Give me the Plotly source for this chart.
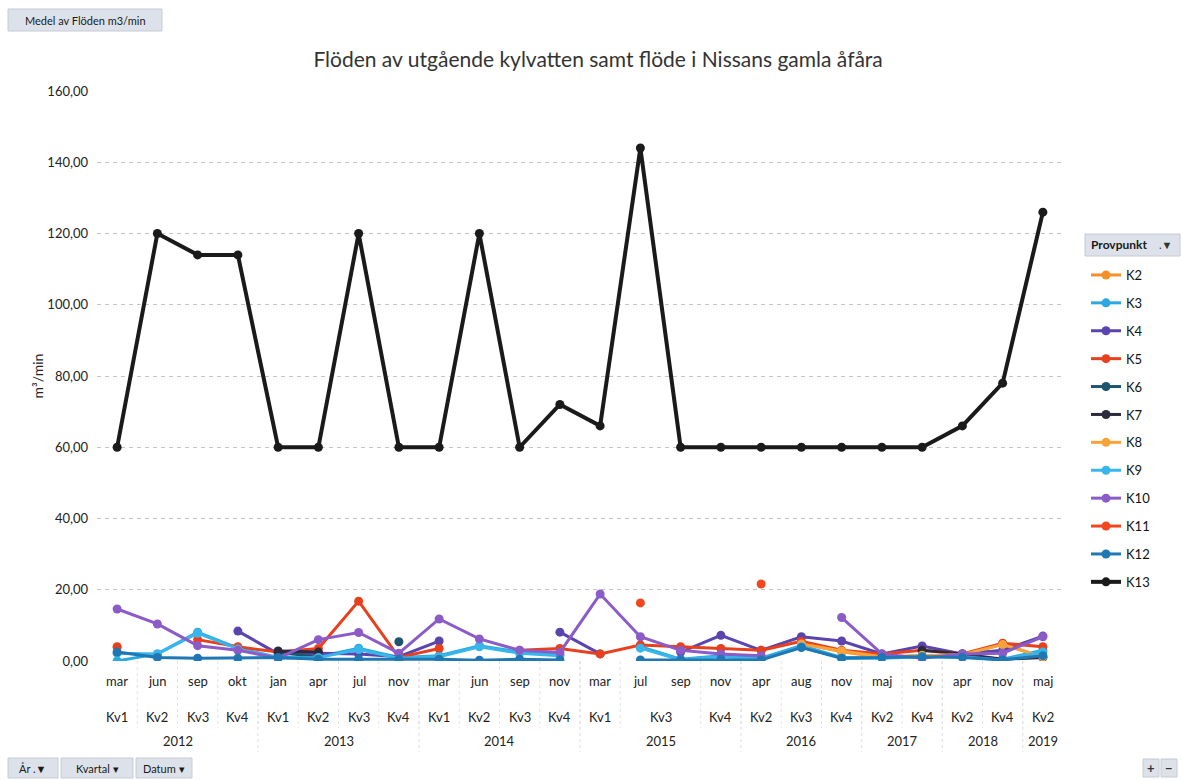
import plotly.graph_objects as go

# ---- category axis (three levels: month / quarter / year) ----
months = ["mar", "jun", "sep", "okt", "jan", "apr", "jul", "nov", "mar", "jun", "sep", "nov",
          "mar", "jul", "sep", "nov", "apr", "aug", "nov", "maj", "nov", "apr", "nov", "maj"]
quarters = ["Kv1", "Kv2", "Kv3", "Kv4", "Kv1", "Kv2", "Kv3", "Kv4", "Kv1", "Kv2", "Kv3", "Kv4",
            "Kv1", "Kv3", "Kv3", "Kv4", "Kv2", "Kv3", "Kv4", "Kv2", "Kv4", "Kv2", "Kv4", "Kv2"]
years = ["2012"] * 4 + ["2013"] * 4 + ["2014"] * 4 + ["2015"] * 4 + ["2016"] * 3 + \
        ["2017"] * 2 + ["2018"] * 2 + ["2019"]

# ---- average flow per sampling point, m3/min ----
K2 = [3.8, None, None, None, None, None, None, None, None, None, None, None,
      None, None, None, None, None, 5.0, 2.6, 1.0, 1.5, 1.5, 4.8, 1.0]
K3 = [0.0, 2.0, 8.1, 3.6, 1.0, 1.2, 3.6, 1.0, 1.5, 4.3, 2.5, 1.8,
      None, 4.0, 0.5, 1.5, 0.8, 4.3, 1.0, 1.0, 1.5, 1.5, 0.5, 3.0]
K4 = [None, None, None, 8.4, 2.0, 2.2, 2.0, 1.2, 5.6, None, None, 8.1,
      2.0, None, 2.5, 7.2, 3.0, 6.8, 5.6, 2.0, 4.2, 2.0, 3.0, 7.0]
K5 = [4.0, None, 6.0, 4.0, 2.5, 3.5, 16.8, 1.0, 3.5, None, 3.0, 3.5,
      2.0, 4.5, 4.0, 3.5, 3.0, 5.5, 3.0, 2.0, 3.0, 2.0, 5.0, 4.0]
K6 = [None, None, None, None, 2.6, 1.0, None, 5.4, None, None, None, None,
      None, None, None, None, None, None, None, None, None, None, None, None]
K7 = [None, None, None, None, 2.8, 2.5, None, None, None, None, None, None,
      None, None, None, None, None, None, None, None, 3.0, 2.0, 0.5, 1.0]
K8 = [None, None, None, None, None, None, None, None, None, None, None, None,
      None, None, None, None, None, 4.8, 2.8, 1.2, 1.6, 1.8, 4.6, 1.2]
K9 = [2.2, 2.0, 7.8, 3.4, 0.8, 1.0, 3.2, 0.8, 1.2, 4.0, 2.2, 1.5,
      None, 3.6, 0.3, 1.2, 0.5, 4.0, 0.8, 0.8, 1.2, 1.2, 0.3, 2.5]
K10 = [14.6, 10.4, 4.3, 3.0, 0.8, 6.0, 8.0, 2.2, 11.8, 6.2, 3.0, 2.4,
       18.8, 6.8, 3.0, 2.0, 1.5, None, 12.2, 2.0, 0.8, 2.0, 2.2, 6.8]
K11 = [None, None, None, None, None, None, None, None, None, None, None, None,
       None, 16.3, None, None, 21.6, None, None, None, None, None, None, None]
K12 = [2.5, 1.0, 0.8, 0.8, 1.0, 0.5, 0.5, 0.5, 0.5, 0.2, 0.5, 0.3,
       None, 0.3, 0.3, 0.5, 0.3, 3.8, 0.8, 1.0, 1.2, 1.0, 0.3, 1.5]
K13 = [60, 120, 114, 114, 60, 60, 120, 60, 60, 120, 60, 72,
       66, 144, 60, 60, 60, 60, 60, 60, 60, 66, 78, 126]

series = [
    ("K2", K2, "#F4902A"),
    ("K3", K3, "#2BA8E0"),
    ("K4", K4, "#5A45AE"),
    ("K5", K5, "#E8401C"),
    ("K6", K6, "#1D5570"),
    ("K7", K7, "#2A2A3C"),
    ("K8", K8, "#F7A33A"),
    ("K9", K9, "#38B6EC"),
    ("K10", K10, "#8B5CC8"),
    ("K11", K11, "#F2461E"),
    ("K12", K12, "#1F77B4"),
    ("K13", K13, "#1A1A1A"),
]

FONT = "Lato"
W, H = 1182, 780
ML, MR, MT, MB = 97, 119, 91, 119
PW, PH = W - ML - MR, H - MT - MB


def px(xp):
    return (xp - ML) / PW


def py(yp):
    return (H - MB - yp) / PH


def label(xp, yp, text, size=11, color="#1a1a1a", anchor="center"):
    return dict(x=px(xp), y=py(yp), xref="paper", yref="paper", text=text, showarrow=False,
                xanchor=anchor, yanchor="middle", font=dict(size=size, color=color, family=FONT))


xs = list(range(len(months)))
fig = go.Figure()
for name, vals, col in series:
    big = name == "K13"
    fig.add_trace(go.Scatter(
        x=xs, y=vals, name=name, legendgroup=name, mode="lines+markers",
        line=dict(color=col, width=4 if big else 3),
        marker=dict(color=col, size=9),
        connectgaps=False,
    ))

annotations = []
shapes = []

# month row
for i, m in enumerate(months):
    annotations.append(dict(x=i, y=0, xref="x", yref="paper", text=m, showarrow=False,
                            xanchor="center", yanchor="middle",
                            yshift=-20, font=dict(size=13, color="#222")))


def runs(labels, keys):
    # consecutive runs of equal labels that stay inside one key group
    out = []
    start = 0
    for i in range(1, len(labels) + 1):
        if i == len(labels) or labels[i] != labels[start] or keys[i] != keys[start]:
            out.append((start, i - 1, labels[start]))
            start = i
    return out


for a, b, lab in runs(quarters, years):
    annotations.append(dict(x=(a + b) / 2, y=0, xref="x", yref="paper", text=lab, showarrow=False,
                            xanchor="center", yanchor="middle",
                            yshift=-56, font=dict(size=13, color="#222")))
    if b < len(months) - 1:
        shapes.append(dict(type="line", xref="x", yref="paper", x0=b + 0.5, x1=b + 0.5,
                           y0=0, y1=py(728), line=dict(color="#e2e2e2", width=1, dash="dot")))

for a, b, lab in runs(years, years):
    annotations.append(dict(x=(a + b) / 2, y=0, xref="x", yref="paper", text=lab, showarrow=False,
                            xanchor="center", yanchor="middle",
                            yshift=-80, font=dict(size=13, color="#222")))
    if b < len(months) - 1:
        shapes.append(dict(type="line", xref="x", yref="paper", x0=b + 0.5, x1=b + 0.5,
                           y0=0, y1=py(752), line=dict(color="#dcdcdc", width=1, dash="dot")))

# pivot field buttons
btn_fill = "#DDE2EA"
btn_line = "#C4CAD4"
shapes.append(dict(type="rect", xref="paper", yref="paper", x0=px(8), x1=px(162), y0=py(31), y1=py(9),
                   fillcolor=btn_fill, line=dict(color=btn_line, width=1), layer="below"))
annotations.append(label(85, 20, "Medel av Flöden m3/min"))

for x0, x1, lab in [(8, 58, "År .▼"), (61, 133, "Kvartal ▾"), (136, 192, "Datum ▾")]:
    shapes.append(dict(type="rect", xref="paper", yref="paper", x0=px(x0), x1=px(x1), y0=py(778), y1=py(758),
                       fillcolor=btn_fill, line=dict(color=btn_line, width=1)))
    annotations.append(label((x0 + x1) / 2, 768, lab))

for x0, x1, lab in [(1143, 1159, "+"), (1161, 1177, "−")]:
    shapes.append(dict(type="rect", xref="paper", yref="paper", x0=px(x0), x1=px(x1), y0=py(777), y1=py(759),
                       fillcolor=btn_fill, line=dict(color=btn_line, width=1)))
    annotations.append(label((x0 + x1) / 2, 768, "<b>" + lab + "</b>", size=13, color="#333"))

# legend header: field button with title and filter marker
shapes.append(dict(type="rect", xref="paper", yref="paper", x0=px(1085), x1=px(1180), y0=py(256), y1=py(234),
                   fillcolor=btn_fill, line=dict(color=btn_line, width=1), layer="below"))
annotations.append(label(1089, 245, "<b>Provpunkt</b>", size=12, color="#1a1a1a", anchor="left"))
annotations.append(label(1165, 245, ".▼", size=11, color="#333"))

fig.update_layout(
    width=W, height=H,
    margin=dict(l=ML, r=MR, t=MT, b=MB),
    paper_bgcolor="white", plot_bgcolor="white",
    separators=", ",
    font=dict(family=FONT, color="#222", size=13),
    title=dict(text="Flöden av utgående kylvatten samt flöde i Nissans gamla åfåra",
               x=0.506, xanchor="center", y=1 - 60 / H, yanchor="middle",
               font=dict(size=21, color="#333", family=FONT)),
    xaxis=dict(range=[-0.5, len(months) - 0.5], showticklabels=False, showgrid=False,
               zeroline=False, showline=False, fixedrange=True),
    yaxis=dict(range=[0, 160], dtick=20, tickformat=".2f", showgrid=True,
               gridcolor="#c4c4c4", griddash="4px,4px", gridwidth=1,
               zeroline=False, showline=False, ticks="", ticklabelstandoff=8,
               tickfont=dict(size=13, color="#222"),
               title=dict(text="m³/min", font=dict(size=14, color="#222"), standoff=0)),
    legend=dict(x=px(1086), y=py(260), xanchor="left", yanchor="top",
                font=dict(size=13, color="#111"), tracegroupgap=8,
                bgcolor="rgba(0,0,0,0)", itemwidth=30),
    annotations=annotations,
    shapes=shapes,
    showlegend=True,
)

fig.write_html("out.html")
